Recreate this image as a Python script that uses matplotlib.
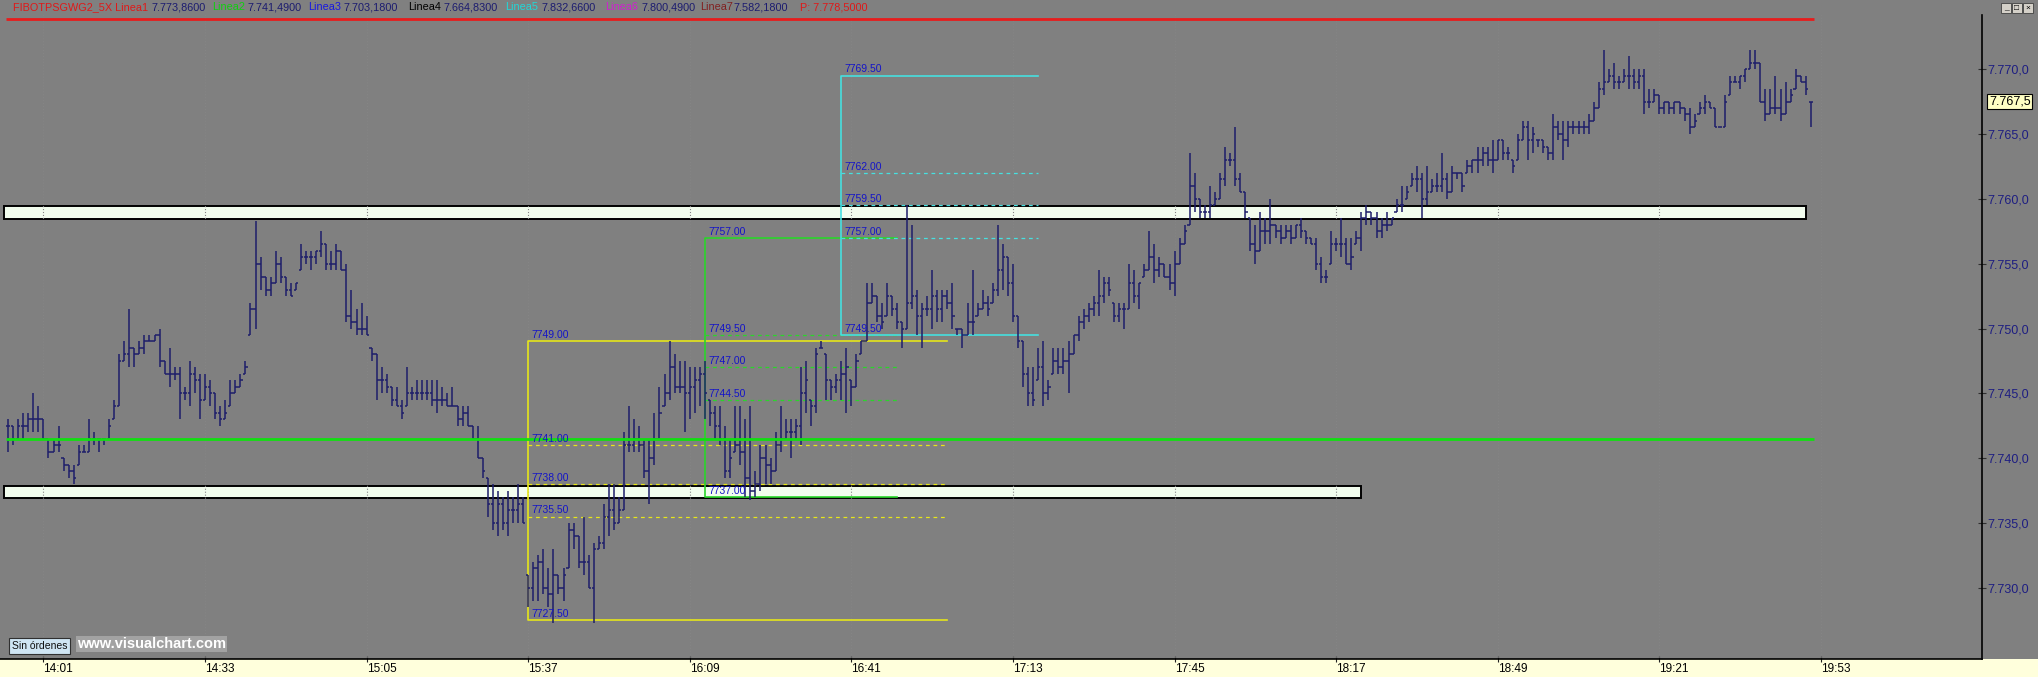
import numpy as np
import matplotlib
matplotlib.use("Agg")
import matplotlib.pyplot as plt
from matplotlib.patches import Rectangle

plt.rcParams['font.family'] = ['Liberation Sans', 'DejaVu Sans']

# ---- datos: barras de 1 minuto, la primera a las 13:54 ----
primera_barra = "13:54"

minimos = [
    # 13:54 - 15:28
    7740.5, 7741.0, 7741.5, 7741.5, 7742.0, 7742.0, 7742.0, 7741.5, 7740.0, 7740.5,
    7740.5, 7739.0, 7738.5, 7738.0, 7739.5, 7740.5, 7740.5, 7741.0, 7740.5, 7741.0,
    7741.5, 7743.0, 7744.0, 7747.5, 7747.0, 7747.0, 7748.0, 7748.0, 7749.0, 7749.0,
    7747.0, 7746.5, 7745.5, 7746.0, 7743.0, 7744.5, 7744.0, 7745.0, 7743.0, 7744.5,
    7744.0, 7743.0, 7742.5, 7743.0, 7744.0, 7745.0, 7745.5, 7746.5, 7749.5, 7750.0,
    7753.0, 7752.5, 7752.5, 7753.5, 7753.5, 7752.5, 7752.5, 7753.0, 7754.5, 7755.0,
    7754.5, 7755.0, 7755.5, 7754.5, 7754.5, 7754.5, 7754.5, 7750.5, 7750.0, 7749.5,
    7749.5, 7749.5, 7747.5, 7744.5, 7745.0, 7745.0, 7744.0, 7744.0, 7743.0, 7744.0,
    7744.5, 7744.5, 7744.5, 7744.5, 7744.0, 7743.5, 7744.0, 7744.0, 7744.0, 7742.5,
    7742.5, 7742.5, 7741.5, 7740.0, 7738.5, 7735.5, 7734.5, 7734.0, 7734.5, 7734.0,
    7735.0, 7735.0,
    # 15:36 - 16:44
    7735.0, 7728.5, 7729.0, 7729.0, 7729.5, 7728.5, 7727.3, 7729.5, 7729.0, 7731.5,
    7733.0, 7731.5, 7731.0, 7730.0, 7727.3, 7733.0, 7733.0, 7734.0, 7734.5, 7735.0,
    7736.0, 7740.5, 7740.5, 7740.5, 7738.5, 7736.5, 7739.5, 7741.5, 7744.0, 7744.5,
    7745.0, 7745.0, 7742.0, 7743.0, 7743.5, 7744.0, 7743.0, 7742.5, 7741.5, 7741.0,
    7738.5, 7738.5, 7740.5, 7739.5, 7737.0, 7736.8, 7737.0, 7737.5, 7738.0, 7738.0,
    7739.0, 7740.5, 7741.5, 7740.0, 7741.5, 7741.0, 7743.5, 7742.5, 7743.5, 7748.5,
    7744.5, 7744.5, 7745.0, 7744.5, 7743.5, 7744.0, 7745.5, 7748.0, 7749.0,
    # 16:45 - 17:14
    7752.0, 7750.5, 7750.0, 7751.0, 7751.0, 7750.0, 7748.5, 7750.0, 7751.5, 7749.5,
    7748.5, 7751.0, 7750.0, 7750.5, 7750.5, 7751.5, 7750.0, 7749.5, 7748.5, 7749.5,
    7749.5, 7751.0, 7751.5, 7751.0, 7752.0, 7752.5, 7753.0, 7752.5, 7750.5, 7748.5,
    # 17:15 - 17:58
    7745.5, 7744.0, 7744.0, 7746.0, 7744.0, 7744.5, 7746.5, 7746.5, 7746.5, 7745.0,
    7748.0, 7749.0, 7750.0, 7750.5, 7751.0, 7751.0, 7752.0, 7752.5, 7750.5, 7750.5,
    7750.0, 7751.5, 7752.0, 7751.5, 7754.0, 7754.5, 7753.5, 7754.0, 7754.0, 7753.0,
    7752.5, 7755.0, 7756.5, 7758.0, 7759.0, 7758.5, 7758.5, 7758.5, 7759.5, 7760.0,
    7761.0, 7762.5, 7761.0, 7760.5,
    # 17:59 - 18:57
    7758.5, 7756.0, 7755.0, 7756.0, 7756.5, 7756.5, 7757.0, 7756.5, 7757.0, 7756.5,
    7757.0, 7757.0, 7756.5, 7756.5, 7754.5, 7753.5, 7753.5, 7755.0, 7756.0, 7755.5,
    7755.0, 7754.5, 7756.5, 7756.0, 7758.0, 7758.0, 7757.0, 7757.0, 7757.5, 7758.0,
    7759.0, 7759.0, 7760.0, 7761.0, 7760.5, 7758.5, 7759.5, 7760.5, 7760.5, 7760.5,
    7760.0, 7760.5, 7761.5, 7760.5, 7762.0, 7762.0, 7762.0, 7762.5, 7762.5, 7762.0,
    7763.0, 7763.0, 7763.0, 7762.0, 7763.0, 7764.5, 7763.0, 7763.5, 7764.0,
    # 18:58 - 19:51
    7763.5, 7763.0, 7763.0, 7764.5, 7763.0, 7764.0, 7765.0, 7765.0, 7765.0, 7765.0,
    7766.0, 7767.0, 7768.0, 7769.0, 7768.5, 7768.5, 7769.0, 7768.5, 7768.5, 7768.5,
    7766.5, 7767.0, 7767.5, 7766.5, 7766.5, 7766.5, 7766.5, 7766.5, 7766.0, 7765.0,
    7765.5, 7766.5, 7766.5, 7767.0, 7765.5, 7765.5, 7765.5, 7768.0, 7769.0, 7768.5,
    7769.0, 7770.0, 7770.0, 7767.5, 7766.0, 7766.5, 7766.5, 7766.0, 7766.5, 7767.5,
    7768.5, 7769.0, 7768.0, 7765.5,
]

maximos = [
    7743.0, 7742.5, 7743.0, 7743.5, 7743.5, 7745.0, 7744.0, 7743.0, 7741.5, 7741.5,
    7742.5, 7740.0, 7739.5, 7739.5, 7741.0, 7741.0, 7743.0, 7742.0, 7741.5, 7741.5,
    7743.0, 7744.5, 7748.0, 7749.0, 7751.5, 7748.5, 7749.0, 7749.5, 7749.5, 7749.5,
    7750.0, 7747.5, 7748.5, 7747.0, 7747.0, 7745.5, 7747.5, 7747.0, 7746.5, 7746.5,
    7746.0, 7745.0, 7744.0, 7744.5, 7746.0, 7746.0, 7746.5, 7747.5, 7752.0, 7758.3,
    7755.5, 7754.0, 7754.0, 7756.0, 7755.5, 7754.0, 7753.5, 7753.5, 7756.5, 7756.0,
    7756.0, 7756.0, 7757.5, 7756.5, 7756.0, 7756.5, 7756.0, 7755.0, 7753.0, 7751.5,
    7752.0, 7751.0, 7748.5, 7748.0, 7747.0, 7746.5, 7745.5, 7745.5, 7744.5, 7747.0,
    7745.5, 7746.0, 7746.0, 7746.0, 7746.0, 7746.0, 7745.5, 7745.0, 7745.5, 7744.0,
    7744.0, 7744.0, 7742.5, 7742.5, 7740.0, 7738.5, 7738.0, 7737.5, 7737.0, 7737.5,
    7737.0, 7738.0,
    7737.0, 7731.0, 7732.0, 7732.5, 7733.0, 7731.5, 7733.0, 7731.0, 7731.5, 7735.0,
    7735.0, 7734.0, 7735.5, 7732.5, 7733.5, 7734.0, 7736.5, 7738.0, 7738.0, 7737.0,
    7742.0, 7744.0, 7743.0, 7742.5, 7741.5, 7741.5, 7743.5, 7745.5, 7746.5, 7749.0,
    7748.0, 7747.5, 7747.5, 7747.0, 7747.0, 7747.0, 7747.5, 7744.5, 7744.0, 7744.0,
    7742.5, 7741.5, 7744.0, 7744.0, 7743.0, 7744.0, 7739.0, 7741.0, 7741.0, 7740.0,
    7742.0, 7744.0, 7743.0, 7743.0, 7743.0, 7747.0, 7747.5, 7744.5, 7748.5, 7749.0,
    7748.0, 7746.0, 7746.5, 7747.5, 7748.5, 7746.0, 7748.0, 7749.0, 7753.5,
    7753.5, 7752.5, 7752.0, 7753.5, 7752.5, 7752.0, 7750.5, 7759.5, 7758.0, 7753.0,
    7752.0, 7752.5, 7754.5, 7753.0, 7753.0, 7753.0, 7753.5, 7750.0, 7750.0, 7752.0,
    7754.5, 7752.0, 7753.0, 7752.5, 7753.5, 7758.0, 7756.5, 7755.5, 7755.0, 7751.0,
    7749.0, 7747.0, 7747.0, 7748.5, 7749.0, 7746.0, 7748.5, 7748.5, 7748.5, 7749.0,
    7749.5, 7751.0, 7751.5, 7752.0, 7752.5, 7754.5, 7754.0, 7754.0, 7752.0, 7752.0,
    7752.0, 7755.0, 7754.5, 7753.5, 7755.0, 7757.5, 7756.5, 7755.5, 7755.0, 7755.0,
    7756.0, 7757.0, 7758.0, 7763.5, 7762.0, 7760.0, 7759.5, 7761.0, 7760.5, 7762.0,
    7764.0, 7763.5, 7765.5, 7762.0,
    7760.5, 7758.5, 7758.0, 7759.0, 7758.5, 7760.0, 7758.0, 7758.0, 7758.0, 7758.0,
    7758.0, 7758.5, 7757.5, 7757.0, 7757.0, 7755.5, 7754.5, 7757.5, 7757.0, 7758.5,
    7757.0, 7757.0, 7757.5, 7759.0, 7759.5, 7759.0, 7759.0, 7758.5, 7759.0, 7758.5,
    7760.0, 7761.0, 7761.0, 7762.0, 7762.5, 7762.0, 7762.5, 7761.5, 7762.0, 7763.5,
    7762.0, 7762.5, 7762.0, 7762.0, 7763.0, 7763.0, 7764.0, 7764.0, 7764.0, 7764.5,
    7764.5, 7764.5, 7764.0, 7763.0, 7765.0, 7766.0, 7766.0, 7765.5, 7764.5,
    7764.5, 7764.0, 7766.5, 7766.0, 7766.0, 7766.0, 7766.0, 7766.0, 7766.0, 7766.5,
    7767.5, 7769.0, 7771.5, 7770.0, 7770.5, 7769.5, 7770.0, 7771.0, 7770.0, 7770.0,
    7770.0, 7768.5, 7768.5, 7768.0, 7767.5, 7767.5, 7767.5, 7767.5, 7767.0, 7767.0,
    7766.5, 7767.5, 7768.0, 7767.5, 7767.0, 7765.5, 7768.0, 7769.5, 7769.5, 7769.5,
    7770.0, 7771.5, 7771.5, 7770.5, 7768.5, 7768.5, 7769.5, 7768.5, 7769.0, 7768.5,
    7770.0, 7769.5, 7769.5, 7767.5,
]

cierres = [
    7742.5, 7741.5, 7742.5, 7742.5, 7743.0, 7743.0, 7743.0, 7741.5, 7740.5, 7741.0,
    7741.0, 7739.5, 7739.0, 7738.5, 7740.5, 7740.5, 7741.5, 7741.5, 7741.5, 7741.5,
    7742.5, 7744.0, 7747.5, 7748.0, 7748.5, 7748.0, 7748.5, 7749.0, 7749.0, 7749.5,
    7747.5, 7746.5, 7746.5, 7746.5, 7745.0, 7745.0, 7746.5, 7746.0, 7744.5, 7745.5,
    7745.0, 7743.5, 7743.0, 7743.5, 7745.0, 7745.5, 7746.0, 7747.0, 7751.5, 7755.0,
    7754.0, 7753.0, 7753.5, 7755.0, 7754.0, 7753.0, 7752.5, 7753.5, 7755.5, 7755.5,
    7755.5, 7756.0, 7756.5, 7755.0, 7755.0, 7756.0, 7754.5, 7751.0, 7750.5, 7750.0,
    7750.0, 7749.5, 7748.0, 7746.0, 7746.0, 7745.5, 7744.5, 7744.0, 7743.5, 7745.0,
    7745.0, 7745.0, 7745.0, 7745.0, 7744.5, 7744.5, 7744.5, 7744.0, 7744.0, 7743.0,
    7743.5, 7742.5, 7741.5, 7740.0, 7739.0, 7736.5, 7735.0, 7736.5, 7735.0, 7736.0,
    7736.0, 7736.5,
    7735.0, 7730.0, 7731.5, 7732.0, 7730.0, 7729.5, 7731.0, 7730.0, 7731.0, 7734.5,
    7734.0, 7732.0, 7732.0, 7730.0, 7733.0, 7733.5, 7735.5, 7736.0, 7735.0, 7736.0,
    7741.0, 7741.0, 7741.5, 7741.0, 7739.0, 7740.0, 7741.5, 7743.5, 7745.0, 7747.0,
    7745.5, 7745.5, 7745.0, 7745.5, 7746.0, 7746.5, 7745.0, 7743.5, 7742.5, 7741.5,
    7739.0, 7740.0, 7741.0, 7740.5, 7738.5, 7737.5, 7738.0, 7740.0, 7739.5, 7739.0,
    7741.0, 7741.5, 7742.0, 7742.0, 7742.5, 7745.0, 7746.0, 7744.0, 7748.0, 7748.5,
    7746.0, 7745.5, 7746.0, 7746.5, 7747.0, 7745.5, 7747.5, 7749.0, 7752.0,
    7752.5, 7751.0, 7750.5, 7752.5, 7751.5, 7750.5, 7750.0, 7752.0, 7752.5, 7751.0,
    7751.5, 7751.5, 7752.5, 7751.5, 7752.5, 7752.0, 7751.0, 7750.0, 7749.5, 7750.5,
    7750.5, 7751.5, 7752.0, 7751.5, 7753.0, 7754.5, 7755.5, 7753.5, 7751.0, 7749.0,
    7746.5, 7745.0, 7744.5, 7747.0, 7745.0, 7745.5, 7747.5, 7747.0, 7747.5, 7748.0,
    7749.5, 7750.5, 7751.0, 7751.5, 7752.0, 7752.5, 7753.5, 7753.0, 7751.0, 7751.5,
    7751.5, 7753.5, 7752.5, 7753.5, 7754.5, 7755.5, 7754.5, 7755.0, 7754.0, 7753.5,
    7755.0, 7756.5, 7757.5, 7761.0, 7760.0, 7759.0, 7759.0, 7759.5, 7760.0, 7761.5,
    7763.0, 7763.0, 7761.5, 7760.5,
    7759.0, 7756.5, 7756.0, 7757.5, 7757.5, 7758.0, 7757.5, 7757.0, 7757.5, 7757.0,
    7758.0, 7757.5, 7757.0, 7756.5, 7755.0, 7754.0, 7754.0, 7756.5, 7756.5, 7756.5,
    7755.0, 7755.5, 7757.0, 7758.5, 7759.0, 7758.5, 7757.5, 7758.0, 7758.0, 7758.5,
    7759.5, 7759.5, 7760.5, 7761.5, 7761.5, 7760.0, 7760.5, 7761.0, 7761.0, 7761.5,
    7760.5, 7762.0, 7762.0, 7761.0, 7762.5, 7763.0, 7763.0, 7763.5, 7763.0, 7763.0,
    7764.5, 7763.5, 7763.5, 7762.5, 7764.5, 7765.5, 7764.5, 7765.0, 7764.5,
    7764.0, 7763.5, 7765.5, 7765.0, 7764.5, 7765.5, 7765.5, 7765.5, 7765.5, 7766.0,
    7767.0, 7768.5, 7769.0, 7769.5, 7769.0, 7769.0, 7769.5, 7769.5, 7769.0, 7769.5,
    7767.5, 7767.5, 7768.0, 7767.0, 7767.5, 7767.0, 7767.5, 7767.0, 7766.5, 7765.5,
    7766.0, 7767.0, 7767.5, 7767.0, 7765.5, 7765.5, 7767.5, 7769.0, 7769.0, 7769.5,
    7770.0, 7770.5, 7770.5, 7767.5, 7766.5, 7767.0, 7767.0, 7766.5, 7767.5, 7768.0,
    7769.5, 7769.0, 7768.5, 7767.5,
]

# lineas del indicador (cabecera)
nombre_indicador = "FIBOTPSGWG2_5X"
lineas_nombre = ["Linea1", "Linea2", "Linea3", "Linea4", "Linea5", "Linea6", "Linea7"]
lineas_valor = [7773.86, 7741.49, 7703.18, 7664.83, 7832.66, 7800.49, 7582.18]
lineas_color = ["#e01818", "#10d010", "#1818e0", "#000000", "#20d8d8", "#d020d0", "#802020"]
precio_p = 7778.50

# retrocesos de Fibonacci: inicio, fin, maximo, minimo, niveles intermedios
fibo_inicio = ["15:37", "16:12", "16:39"]
fibo_fin = ["17:00", "16:50", "17:18"]
fibo_alto = [7749.00, 7757.00, 7769.50]
fibo_bajo = [7727.50, 7737.00, 7749.50]
fibo_niveles = [[7741.00, 7738.00, 7735.50],
                [7749.50, 7747.00, 7744.50],
                [7762.00, 7759.50, 7757.00]]
fibo_color = ["#e6e61a", "#2ad62a", "#46e0e0"]

# zonas blancas (soporte / resistencia)
zona_bajo = [7758.45, 7736.90]
zona_alto = [7759.45, 7737.85]
zona_fin = ["19:50", "18:22"]

horas = ["14:01", "14:33", "15:05", "15:37", "16:09", "16:41",
         "17:13", "17:45", "18:17", "18:49", "19:21", "19:53"]
niveles_y = [7730, 7735, 7740, 7745, 7750, 7755, 7760, 7765, 7770]
ultimo = 7767.5

GRIS = "#808080"
AZUL_BARRA = "#1e1e6a"
AZUL_TXT = "#1414c8"


def minutos(hhmm):
    h, m = hhmm.split(":")
    return int(h) * 60 + int(m)


def formato(v, dec):
    s = f"{v:,.{dec}f}"
    return s.replace(",", "X").replace(".", ",").replace("X", ".")


W, H = 2038, 677
fig = plt.figure(figsize=(W / 100, H / 100), dpi=100, facecolor=GRIS)
ax = fig.add_axes([0, 18 / H, 1982 / W, 644 / H], facecolor=GRIS)

# franja amarilla del eje de tiempo
fig.patches.append(Rectangle((0, 0), 1, 18 / H, transform=fig.transFigure,
                             facecolor="#ffffdc", edgecolor="none", zorder=-1))

t = minutos(primera_barra) + np.arange(len(cierres))
t0, t1 = t[0], t[-1]

# zonas
for b, a, f in zip(zona_bajo, zona_alto, zona_fin):
    ax.add_patch(Rectangle((t0 - 0.8, b), minutos(f) - t0 + 0.8, a - b,
                           facecolor="#f2fdee", edgecolor="black", lw=1.4, zorder=1))

# rejilla punteada en las horas
ax.vlines([minutos(h) for h in horas], 7724, 7775, colors="#858585",
          linestyles=":", lw=0.8, zorder=2)

# cajas de Fibonacci
for i in range(3):
    x0, x1 = minutos(fibo_inicio[i]), minutos(fibo_fin[i])
    c = fibo_color[i]
    ax.plot([x1, x0, x0, x1], [fibo_alto[i], fibo_alto[i], fibo_bajo[i], fibo_bajo[i]],
            color=c, lw=1.2, zorder=3)
    ax.hlines(fibo_niveles[i], x0, x1, colors=c, lw=0.9,
              linestyles=(0, (3, 3)), zorder=3)
    for v in [fibo_alto[i]] + fibo_niveles[i] + [fibo_bajo[i]]:
        ax.annotate(f"{v:.2f}", (x0, v), xytext=(2.5, 0.8), textcoords="offset points",
                    ha="left", va="bottom", fontsize=7.5, color=AZUL_TXT, zorder=6)

# barras OHLC (apertura = cierre anterior)
lo = np.array(minimos)
hi = np.array(maximos)
cl = np.array(cierres)
op = np.clip(np.r_[cl[0], cl[:-1]], lo, hi)
ax.vlines(t, lo, hi, colors=AZUL_BARRA, lw=1.1, zorder=4)
ax.hlines(cl, t, t + 0.45, colors=AZUL_BARRA, lw=1.1, zorder=4)
ax.hlines(op, t - 0.45, t, colors=AZUL_BARRA, lw=1.1, zorder=4)

# lineas horizontales Linea1 (roja) y Linea2 (verde)
ax.hlines(lineas_valor[0], t0 - 0.5, t1 + 0.6, colors="#e81c1c", lw=2.0, zorder=5)
ax.hlines(lineas_valor[1], t0 - 0.5, t1 + 0.6, colors="#10e010", lw=2.0, zorder=5)

ax.set_xlim(832.4, 1224.9)
ax.set_ylim(7724.52, 7774.17)

for s in ["left", "top"]:
    ax.spines[s].set_visible(False)
for s in ["bottom", "right"]:
    ax.spines[s].set_color("black")
    ax.spines[s].set_linewidth(1.2)

ax.yaxis.tick_right()
ax.set_yticks(niveles_y)
ax.set_yticklabels([formato(v, 1) for v in niveles_y])
ax.tick_params(axis="y", direction="inout", length=6, width=0.8, colors="#303030",
               labelcolor="#1e1e82", labelsize=9, pad=1)

ax.set_xticks([minutos(h) for h in horas])
ax.set_xticklabels(horas)
for lbl in ax.get_xticklabels():
    lbl.set_ha("left")
ax.tick_params(axis="x", direction="inout", length=5, width=0.8, colors="#202020",
               labelcolor="black", labelsize=8.5, pad=0.5)

# ultimo precio en el eje
ax.text(1.0035, ultimo, formato(ultimo, 1), transform=ax.get_yaxis_transform(),
        ha="left", va="center", fontsize=9, color="black", zorder=10, clip_on=False,
        bbox=dict(boxstyle="square,pad=0.12", fc="#ffffc4", ec="black", lw=0.8))

# cabecera
yc = 1 - 7 / H
cab = [(nombre_indicador + " " + lineas_nombre[0], lineas_color[0], 13)]
pos_nombre = [None, 212, 308, 408, 505, 605, 700]
pos_valor = [152, 248, 344, 444, 542, 641, 733]
for i in range(7):
    if i > 0:
        cab.append((lineas_nombre[i], lineas_color[i], pos_nombre[i]))
    cab.append((formato(lineas_valor[i], 4), "#1c1c70", pos_valor[i]))
cab.append(("P: " + formato(precio_p, 4), "#e01818", 800))
for txt, col, x in cab:
    fig.text(x / W, yc, txt, color=col, fontsize=7.8, va="center", ha="left")

# botones de ventana
for k, sym in enumerate(["_", "□", "×"]):
    x = (2001 + 11 * k) / W
    fig.patches.append(Rectangle((x, 1 - 13 / H), 10 / W, 10 / H, transform=fig.transFigure,
                                 facecolor="#d4d0c8", edgecolor="#404040", lw=0.6, zorder=2))
    fig.text(x + 5 / W, 1 - 8 / H, sym, fontsize=6, ha="center", va="center", color="black")

# etiquetas inferiores
fig.text(12 / W, 1 - 646 / H, "Sin órdenes", fontsize=7.5, va="center", ha="left",
         color="#101010",
         bbox=dict(boxstyle="square,pad=0.25", fc="#cfe5f3", ec="#303030", lw=0.8))
fig.text(77 / W, 1 - 644 / H, "www.visualchart.com", fontsize=10.5, weight="bold",
         color="white", va="center", ha="left",
         bbox=dict(boxstyle="square,pad=0.1", fc="#a2a2a2", ec="none"))

fig.savefig("out.png", dpi=100, facecolor=GRIS)
